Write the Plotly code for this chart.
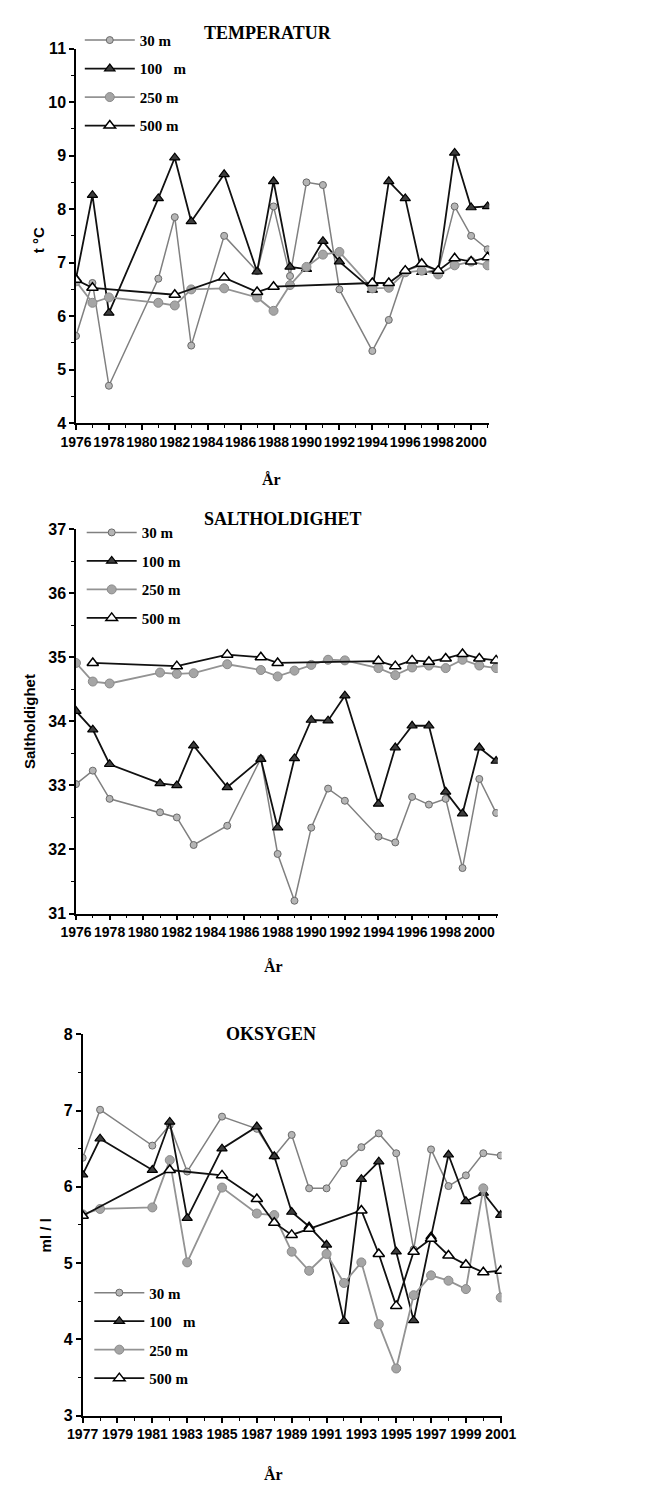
import plotly.graph_objects as go

# ---------------- data ----------------
# TEMPERATUR (t °C)
temp_years = [1976, 1977, 1978, 1981, 1982, 1983, 1985, 1987, 1988, 1989, 1990,
              1991, 1992, 1994, 1995, 1996, 1997, 1998, 1999, 2000, 2001]
temp_30 = [5.63, 6.62, 4.70, 6.70, 7.85, 5.45, 7.50, 6.84, 8.05, 6.75, 8.50,
           8.45, 6.50, 5.35, 5.93, 6.85, 6.95, 6.85, 8.05, 7.50, 7.25]
temp_100 = [6.70, 8.26, 6.06, 8.20, 8.96, 7.77, 8.65, 6.83, 8.52, 6.92, 6.88,
            7.40, 7.02, 6.49, 8.52, 8.20, 6.82, 6.85, 9.05, 8.03, 8.05]
temp_250 = [6.65, 6.25, 6.35, 6.25, 6.20, 6.50, 6.52, 6.35, 6.10, 6.58, 6.92,
            7.15, 7.20, 6.52, 6.53, 6.82, 6.85, 6.78, 6.95, 7.02, 6.95]
temp_years_500 = [1976, 1977, 1982, 1985, 1987, 1988, 1994, 1995, 1996, 1997,
                  1998, 1999, 2000, 2001]
temp_500 = [6.68, 6.53, 6.40, 6.72, 6.45, 6.55, 6.62, 6.62, 6.85, 6.98,
            6.85, 7.08, 7.02, 7.10]

# SALTHOLDIGHET
salt_years = [1976, 1977, 1978, 1981, 1982, 1983, 1985, 1987, 1988, 1989, 1990,
              1991, 1992, 1994, 1995, 1996, 1997, 1998, 1999, 2000, 2001]
salt_30 = [33.02, 33.23, 32.79, 32.58, 32.50, 32.07, 32.37, 33.42, 31.93, 31.20, 32.34,
           32.95, 32.76, 32.20, 32.11, 32.82, 32.70, 32.79, 31.71, 33.10, 32.57]
salt_100 = [34.16, 33.87, 33.33, 33.03, 33.00, 33.62, 32.97, 33.41, 32.34, 33.42, 34.02,
            34.01, 34.40, 32.71, 33.59, 33.93, 33.93, 32.90, 32.56, 33.59, 33.38]
salt_250 = [34.91, 34.62, 34.59, 34.76, 34.74, 34.75, 34.89, 34.80, 34.70, 34.79, 34.88,
            34.96, 34.95, 34.83, 34.72, 34.84, 34.87, 34.83, 34.96, 34.87, 34.83]
salt_years_500 = [1977, 1982, 1985, 1987, 1988, 1994, 1995, 1996, 1997, 1998,
                  1999, 2000, 2001]
salt_500 = [34.91, 34.86, 35.04, 35.00, 34.91, 34.94, 34.86, 34.95, 34.93, 34.98,
            35.05, 34.98, 34.95]

# OKSYGEN (ml/l)
oxy_years = [1977, 1978, 1981, 1982, 1983, 1985, 1987, 1988, 1989, 1990, 1991,
             1992, 1993, 1994, 1995, 1996, 1997, 1998, 1999, 2000, 2001]
oxy_30 = [6.38, 7.01, 6.54, 6.81, 6.20, 6.92, 6.76, 6.40, 6.68, 5.98, 5.98,
          6.31, 6.52, 6.70, 6.44, 5.18, 6.49, 6.01, 6.15, 6.44, 6.41]
oxy_100 = [6.16, 6.63, 6.22, 6.85, 5.59, 6.50, 6.79, 6.40, 5.67, 5.48, 5.24,
           4.24, 6.10, 6.33, 5.15, 4.25, 5.35, 6.42, 5.81, 5.92, 5.63]
oxy_250 = [5.64, 5.71, 5.73, 6.35, 5.01, 5.99, 5.65, 5.63, 5.15, 4.90, 5.12,
           4.74, 5.01, 4.20, 3.62, 4.58, 4.84, 4.77, 4.66, 5.98, 4.55]
oxy_years_500 = [1977, 1982, 1985, 1987, 1988, 1989, 1990, 1993, 1994, 1995,
                 1996, 1997, 1998, 1999, 2000, 2001]
oxy_500 = [5.62, 6.22, 6.15, 5.84, 5.53, 5.37, 5.45, 5.69, 5.12, 4.44,
           5.15, 5.32, 5.10, 4.98, 4.88, 4.90]

temp_ticks = list(range(1976, 2001, 2))
salt_ticks = list(range(1976, 2001, 2))
oxy_ticks = list(range(1977, 2002, 2))

# ---------------- layout helpers ----------------
W, H = 648, 1493


def fx(px):
    return px / W


def fy(py):
    return 1 - py / H


NBSP = "\u00a0"
SANS = "Liberation Sans, Arial, sans-serif"
SERIF = "Liberation Serif, Times New Roman, serif"

STYLES = {
    "30": dict(line=dict(color="#808080", width=1.5),
               marker=dict(symbol="circle", size=7, color="#b5b5b5",
                           line=dict(color="#6a6a6a", width=1))),
    "100": dict(line=dict(color="#111111", width=1.8),
                marker=dict(symbol="triangle-up", size=9, color="#3c3c3c",
                            line=dict(color="#000000", width=1.2))),
    "250": dict(line=dict(color="#939393", width=1.8),
                marker=dict(symbol="circle", size=9, color="#a5a5a5",
                            line=dict(color="#8a8a8a", width=1))),
    "500": dict(line=dict(color="#111111", width=1.8),
                marker=dict(symbol="triangle-up", size=10, color="#ffffff",
                            line=dict(color="#000000", width=1.5))),
}

panels = [
    dict(ax="", xd=(63, 497), yd=(41, 420), xr=(1976, 2001.1), yr=(4, 11),
         ticks=temp_ticks, legend="legend",
         names=["30 m", "100" + NBSP * 3 + "m", "250 m", "500 m"],
         series=[(temp_years, temp_30, "30"), (temp_years, temp_100, "100"),
                 (temp_years, temp_250, "250"), (temp_years_500, temp_500, "500")]),
    dict(ax="2", xd=(63, 506), yd=(527, 916), xr=(1976, 2001.1), yr=(31, 37),
         ticks=salt_ticks, legend="legend2",
         names=["30 m", "100 m", "250 m", "500 m"],
         series=[(salt_years, salt_30, "30"), (salt_years, salt_100, "100"),
                 (salt_years, salt_250, "250"), (salt_years_500, salt_500, "500")]),
    dict(ax="3", xd=(70, 510), yd=(1038, 1424), xr=(1977, 2001.05), yr=(3, 8),
         ticks=oxy_ticks, legend="legend3",
         names=["30 m", "100" + NBSP * 3 + "m", "250 m", "500 m"],
         series=[(oxy_years, oxy_30, "30"), (oxy_years, oxy_100, "100"),
                 (oxy_years, oxy_250, "250"), (oxy_years_500, oxy_500, "500")]),
]

fig = go.Figure()
layout = {}

for i, p in enumerate(panels):
    xa = "x" + p["ax"]
    ya = "y" + p["ax"]
    for (yrs, vals, key), name in zip(p["series"], p["names"]):
        st = STYLES[key]
        fig.add_trace(go.Scatter(
            x=yrs, y=vals, mode="lines+markers", name=name,
            line=st["line"], marker=st["marker"],
            xaxis=xa, yaxis=ya, legend=p["legend"],
            legendgroup=f"p{i}_{key}", showlegend=True,
        ))
    axis_common = dict(showline=True, linecolor="black", linewidth=1.5,
                       showgrid=False, zeroline=False, ticks="outside",
                       ticklen=5, tickwidth=1.5, tickcolor="black", tickangle=0)
    layout["xaxis" + p["ax"]] = dict(
        axis_common, domain=[fx(p["xd"][0]), fx(p["xd"][1])], range=list(p["xr"]),
        anchor=ya, tickmode="array", tickvals=p["ticks"],
        ticktext=[str(t) for t in p["ticks"]],
        minor=dict(ticks="outside", dtick=1, tick0=p["xr"][0], ticklen=3,
                   tickwidth=1.2, tickcolor="black"),
        tickfont=dict(family=SANS, size=14, color="black", weight="bold"),
    )
    layout["yaxis" + p["ax"]] = dict(
        axis_common, domain=[fy(p["yd"][1]), fy(p["yd"][0])], range=list(p["yr"]),
        anchor=xa, dtick=1, tick0=p["yr"][0],
        minor=dict(ticks="outside", dtick=0.5, ticklen=3, tickwidth=1.2,
                   tickcolor="black"),
        tickfont=dict(family=SANS, size=16, color="black", weight="bold"),
    )

legend_common = dict(xanchor="left", yanchor="top", bgcolor="rgba(0,0,0,0)",
                     font=dict(family=SERIF, size=15, color="black", weight="bold"),
                     itemwidth=50, tracegroupgap=6, traceorder="grouped")
layout["legend"] = dict(legend_common, x=fx(67), y=fy(16))
layout["legend2"] = dict(legend_common, x=fx(69), y=fy(514))
layout["legend3"] = dict(legend_common, x=fx(77), y=fy(1283))

annotations = []


def ann(text, px, py, size, family, angle=0):
    annotations.append(dict(text=text, x=fx(px), y=fy(py), xref="paper", yref="paper",
                            showarrow=False, textangle=angle, xanchor="center",
                            yanchor="middle",
                            font=dict(family=family, size=size, color="black",
                                      weight="bold")))


ann("TEMPERATUR", 265, 25, 18, SERIF)
ann("SALTHOLDIGHET", 280, 517, 18, SERIF)
ann("OKSYGEN", 268, 1038, 18, SERIF)
ann("År", 268, 477, 16, SERIF)
ann("År", 270, 970, 16, SERIF)
ann("År", 270, 1483, 16, SERIF)
ann("t °C", 23, 235, 15, SANS, -90)
ann("Saltholdighet", 14, 722, 15, SANS, -90)
ann("ml / l", 31, 1242, 15, SANS, -90)

fig.update_layout(
    width=W, height=H, margin=dict(l=0, r=0, t=0, b=0),
    paper_bgcolor="white", plot_bgcolor="white",
    showlegend=True, annotations=annotations, **layout,
)

fig.write_html("out.html", config={"displayModeBar": False},
               post_script="document.body.style.margin='0';")
